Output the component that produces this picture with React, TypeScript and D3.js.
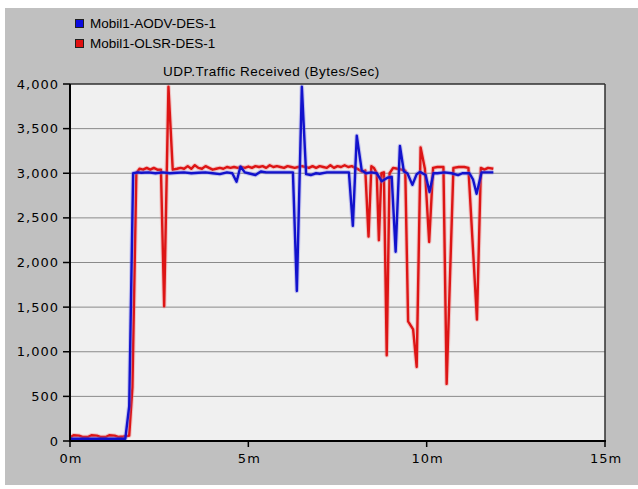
import React from "react";
import * as d3 from "d3";

const seriesNames = ["Mobil1-AODV-DES-1", "Mobil1-OLSR-DES-1"];
const chartTitle = "UDP.Traffic Received (Bytes/Sec)";
const yTicks = [0, 500, 1000, 1500, 2000, 2500, 3000, 3500, 4000];
const xTicks = [0, 5, 10, 15];

// [minutes, bytes/sec]
const aodvData: [number, number][] = [
  [0, 25], [0.5, 25], [1.0, 25], [1.55, 25], [1.66, 390], [1.77, 3000], [1.9, 3010], [2.0, 3005],
  [2.2, 3010], [2.4, 3000], [2.6, 3010], [2.8, 3000], [3.0, 3005], [3.2, 3010], [3.4, 3000],
  [3.6, 3005], [3.8, 3010], [4.0, 3000], [4.2, 2990], [4.4, 3010], [4.55, 3000], [4.67, 2905],
  [4.78, 3075], [4.9, 3010], [5.0, 3000], [5.2, 2980], [5.35, 3020], [5.5, 3010], [5.7, 3010],
  [5.9, 3010], [6.1, 3010], [6.25, 3010], [6.36, 1680], [6.5, 3970], [6.62, 2990], [6.75, 2980],
  [6.9, 3000], [7.0, 2995], [7.2, 3010], [7.4, 3010], [7.6, 3010], [7.82, 3010], [7.93, 2410],
  [8.04, 3420], [8.18, 3030], [8.3, 3000], [8.45, 3010], [8.6, 3000], [8.74, 2910], [8.9, 2950],
  [9.02, 2960], [9.13, 2120], [9.25, 3305], [9.36, 3020], [9.46, 3000], [9.6, 2870], [9.72, 2990],
  [9.81, 3015], [9.97, 2980], [10.08, 2790], [10.19, 3000], [10.3, 3000], [10.5, 3010], [10.7, 3000],
  [10.88, 2980], [11.0, 3000], [11.2, 3000], [11.3, 2930], [11.4, 2770], [11.54, 3010], [11.7, 3010],
  [11.87, 3010],
];

const olsrData: [number, number][] = [
  [0, 40], [0.1, 65], [0.25, 60], [0.35, 45], [0.5, 45], [0.6, 65], [0.75, 60], [0.85, 45],
  [1.0, 45], [1.1, 65], [1.25, 60], [1.35, 45], [1.5, 50], [1.66, 60], [1.75, 600], [1.86, 3000],
  [1.95, 3050], [2.05, 3040], [2.15, 3060], [2.25, 3040], [2.35, 3060], [2.45, 3040], [2.55, 3040],
  [2.64, 1510], [2.76, 3970], [2.88, 3040], [3.0, 3050], [3.1, 3060], [3.2, 3050], [3.3, 3080],
  [3.4, 3050], [3.5, 3090], [3.6, 3060], [3.7, 3050], [3.8, 3080], [3.9, 3060], [4.0, 3040],
  [4.1, 3050], [4.2, 3060], [4.3, 3050], [4.4, 3070], [4.5, 3060], [4.6, 3070], [4.7, 3060],
  [4.8, 3070], [4.9, 3060], [5.0, 3075], [5.1, 3060], [5.2, 3080], [5.3, 3070], [5.4, 3080],
  [5.5, 3060], [5.6, 3090], [5.7, 3070], [5.8, 3080], [5.9, 3070], [6.0, 3060], [6.1, 3080],
  [6.2, 3070], [6.3, 3060], [6.4, 3070], [6.5, 3080], [6.6, 3070], [6.7, 3060], [6.8, 3080],
  [6.9, 3060], [7.0, 3080], [7.1, 3070], [7.2, 3060], [7.3, 3090], [7.4, 3060], [7.5, 3080],
  [7.6, 3070], [7.7, 3090], [7.8, 3070], [7.9, 3080], [8.0, 3060], [8.1, 3040], [8.18, 3020],
  [8.28, 3030], [8.37, 2290], [8.45, 3080], [8.52, 3060], [8.6, 3000], [8.66, 2250], [8.73, 3000],
  [8.8, 3010], [8.88, 960], [8.96, 3000], [9.06, 3060], [9.18, 3050], [9.3, 3040], [9.4, 3030],
  [9.48, 1340], [9.62, 1250], [9.72, 830], [9.83, 3290], [9.95, 3050], [10.07, 2230], [10.18, 3060],
  [10.3, 3070], [10.47, 3070], [10.56, 640], [10.75, 3060], [10.9, 3070], [11.05, 3070],
  [11.17, 3060], [11.41, 1360], [11.52, 3060], [11.62, 3040], [11.72, 3060], [11.87, 3050],
];

const W = 638;
const H = 489;
const plot = { left: 70, right: 605, top: 84, bottom: 441 };

export default function App() {
  const x = d3.scaleLinear().domain([0, 15]).range([plot.left, plot.right]);
  const y = d3.scaleLinear().domain([0, 4000]).range([plot.bottom, plot.top]);
  const line = d3
    .line<[number, number]>()
    .x((d) => x(d[0]))
    .y((d) => y(d[1]));

  const series = [
    { name: seriesNames[1], data: olsrData, color: "#dd1515", glow: "#f07070" },
    { name: seriesNames[0], data: aodvData, color: "#1212cc", glow: "#7070e8" },
  ];
  const legend = [
    { name: seriesNames[0], fill: "#0a0ae0" },
    { name: seriesNames[1], fill: "#e01010" },
  ];

  return (
    <svg
      width={W}
      height={H}
      style={{ position: "absolute", left: 0, top: 0, display: "block" }}
    >
      <rect x={0} y={0} width={W} height={H} fill="#ffffff" />
      <rect x={5} y={8} width={W - 5} height={477} fill="#c0c0c0" />

      {legend.map((l, i) => (
        <g key={l.name}>
          <rect x={75.5} y={19.5 + i * 20} width={8} height={8} fill={l.fill} stroke="#202020" strokeWidth={1} />
          <text
            x={90}
            y={28 + i * 20}
            fontFamily="Liberation Sans, Arial, sans-serif"
            fontSize={13.5}
            fill="#000"
          >
            {l.name}
          </text>
        </g>
      ))}

      <text
        x={163}
        y={76}
        fontFamily="Liberation Sans, Arial, sans-serif"
        fontSize={13.5}
        letterSpacing={0.5}
        fill="#000"
      >
        {chartTitle}
      </text>

      <rect
        x={plot.left}
        y={plot.top}
        width={plot.right - plot.left}
        height={plot.bottom - plot.top}
        fill="#f0f0f0"
      />

      {yTicks
        .filter((t) => t > 0 && t < 4000)
        .map((t) => (
          <line
            key={"g" + t}
            x1={plot.left}
            x2={plot.right}
            y1={y(t)}
            y2={y(t)}
            stroke="#8a8a8a"
            strokeWidth={1}
          />
        ))}

      {series.map((s) => (
        <g key={s.name}>
          <path d={line(s.data) || ""} fill="none" stroke={s.glow} strokeWidth={4.5} strokeOpacity={0.35} strokeLinejoin="round" />
          <path d={line(s.data) || ""} fill="none" stroke={s.color} strokeWidth={2.4} strokeLinejoin="round" />
        </g>
      ))}

      {/* frame */}
      <line x1={plot.left} x2={plot.right} y1={plot.top} y2={plot.top} stroke="#303030" strokeWidth={1.5} />
      <line x1={plot.right} x2={plot.right} y1={plot.top} y2={plot.bottom} stroke="#303030" strokeWidth={1.5} />
      <line x1={plot.left} x2={plot.left} y1={plot.top} y2={plot.bottom + 1} stroke="#000" strokeWidth={2} />
      <line x1={plot.left - 1} x2={plot.right + 1} y1={plot.bottom} y2={plot.bottom} stroke="#000" strokeWidth={2} />

      {yTicks.map((t) => (
        <g key={"y" + t}>
          <line x1={plot.left - 7} x2={plot.left} y1={y(t)} y2={y(t)} stroke="#000" strokeWidth={1.5} />
          <text
            x={59}
            y={y(t) + 4.5}
            textAnchor="end"
            fontFamily="DejaVu Sans, sans-serif"
            fontSize={13}
            letterSpacing={1}
            fill="#000"
          >
            {d3.format(",")(t)}
          </text>
        </g>
      ))}

      {xTicks.map((t) => (
        <g key={"x" + t}>
          <line x1={x(t)} x2={x(t)} y1={plot.bottom} y2={plot.bottom + 6} stroke="#000" strokeWidth={1.5} />
          <text
            x={x(t) + 1}
            y={463}
            textAnchor="middle"
            fontFamily="DejaVu Sans, sans-serif"
            fontSize={13}
            letterSpacing={1}
            fill="#000"
          >
            {t + "m"}
          </text>
        </g>
      ))}
    </svg>
  );
}
